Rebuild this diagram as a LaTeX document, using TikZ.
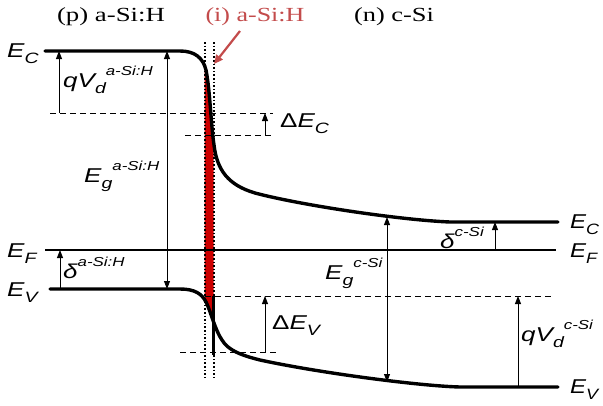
\documentclass[tikz,border=0pt]{standalone}
\usepackage{fontspec}
\setmainfont{Liberation Serif}
\setsansfont{Liberation Sans}
\usetikzlibrary{arrows.meta,calc}

% the printed lettering is stretched sideways
\newcommand{\hwide}[2][1.3]{\scalebox{#1}[1]{#2}}
% level symbol with subscript, and with sub- and superscript
\newcommand{\lev}[2]{#1\raisebox{-0.55ex}{\fontsize{15}{15}\selectfont #2}}
\newcommand{\levsup}[3]{#1\raisebox{-0.55ex}{\fontsize{15}{15}\selectfont #2}\raisebox{1.15ex}{\fontsize{13}{13}\selectfont #3}}

\begin{document}
\begin{tikzpicture}[
  x=1pt, y=-1pt,
  band/.style={line width=3.4pt, line cap=round},
  fermi/.style={line width=1.6pt},
  guide/.style={dash pattern=on 6pt off 4pt, line width=0.9pt},
  grid line/.style={dotted, line width=1.6pt},
  tip/.style={-{Triangle[length=8pt,width=6pt]}, line width=0.9pt},
  tips/.style={{Triangle[length=8pt,width=6pt]}-{Triangle[length=8pt,width=6pt]}, line width=0.9pt},
  lbl/.style={font=\sffamily\itshape\fontsize{20}{20}\selectfont, inner sep=0pt},
  qty/.style={font=\sffamily\itshape\fontsize{20}{20}\selectfont, inner sep=0pt, anchor=west},
  title/.style={font=\fontsize{20}{20}\selectfont, inner sep=0pt}
]
  \useasboundingbox (0,0) rectangle (603,405);

  \def\ecpath{(45,51) -- (180,51) .. controls (195,51) and (203,58) .. (206,70)
    .. controls (210,90) and (211,125) .. (214,145)
    .. controls (217,170) and (228,185) .. (255,193)
    .. controls (300,205) and (400,220) .. (450,222) -- (558,222)}
  \def\evpath{(50,289) -- (180,289) .. controls (195,289) and (202,294) .. (206,302)
    .. controls (211,312) and (215,330) .. (222,340)
    .. controls (228,350) and (240,355) .. (260,360)
    .. controls (320,373) and (420,386) .. (460,387) -- (558,387)}

  % titles
  \node[title] (pside) at (111,17) {\hwide[1.34]{(p) a-Si:H}};
  \node[title, text={rgb,255:red,195;green,75;blue,75}] (iside) at (255,17) {\hwide[1.3]{(i) a-Si:H}};
  \node[title] (nside) at (394,17) {\hwide[1.32]{(n) c-Si}};

  % intrinsic layer
  \begin{scope}
    \clip (204.5,0) rectangle (213.5,405);
    \clip \ecpath -- (558,405) -- (45,405) -- cycle;
    \fill[red!80!black] \evpath -- (558,0) -- (50,0) -- cycle;
  \end{scope}

  % dashed reference levels
  \draw[guide] (50,113) -- (273,113);
  \draw[guide] (185,135) -- (273,135);
  \draw[guide] (205,296) -- (553,296);
  \draw[guide] (180,352) -- (278,352);

  % bands
  \draw[band] \ecpath;
  \draw[band] \evpath;
  \draw[line width=2.6pt] (213.5,296) -- (213.5,355);
  \draw[fermi] (45,250) -- (556,250);

  % interface layer borders
  \draw[grid line] (205,42) -- (205,380);
  \draw[grid line] (214,42) -- (214,380);

  % pointer to the i-layer
  \coordinate (ptail) at (240,31);
  \coordinate (phead) at (214,64);
  \draw[-{Triangle[length=9pt,width=8pt]}, line width=2.2pt,
        draw={rgb,255:red,195;green,75;blue,75}] (ptail) -- (phead);

  % level names
  \node[lbl, anchor=west] (ecl) at (7,54)  {\hwide{\lev{E}{C}}};
  \node[lbl, anchor=west] (efl) at (7,254) {\hwide{\lev{E}{F}}};
  \node[lbl, anchor=west] (evl) at (7,293) {\hwide{\lev{E}{V}}};
  \node[lbl, anchor=west] (ecr) at (570,225) {\hwide[1.2]{\lev{E}{C}}};
  \node[lbl, anchor=west] (efr) at (570,254) {\hwide[1.2]{\lev{E}{F}}};
  \node[lbl, anchor=west] (evr) at (570,390) {\hwide[1.2]{\lev{E}{V}}};

  % quantities
  \coordinate (qa1) at (59,113);  \coordinate (qa2) at (59,51);
  \coordinate (ga1) at (167,51);  \coordinate (ga2) at (167,289);
  \coordinate (da1) at (60,289);  \coordinate (da2) at (60,250);
  \coordinate (dc1) at (265,135); \coordinate (dc2) at (265,113);
  \coordinate (dv1) at (265,352); \coordinate (dv2) at (265,296);
  \coordinate (gc1) at (387,217); \coordinate (gc2) at (387,382);
  \coordinate (ds1) at (495,250); \coordinate (ds2) at (495,222);
  \coordinate (qc1) at (518,387); \coordinate (qc2) at (518,296);

  \draw[tip]  (qa1) -- (qa2);
  \draw[tips] (ga1) -- (ga2);
  \draw[tip]  (da1) -- (da2);
  \draw[tip]  (dc1) -- (dc2);
  \draw[tip]  (dv1) -- (dv2);
  \draw[tips] (gc1) -- (gc2);
  \draw[tip]  (ds1) -- (ds2);
  \draw[tip]  (qc1) -- (qc2);

  \node[qty] (qva) at (63,80)   {\hwide{\levsup{qV}{d}{a-Si:H}}};
  \node[qty] (ega) at (84,176)  {\hwide{\levsup{E}{g}{a-Si:H}}};
  \node[qty] (dea) at (63,268)  {\hwide{δ\raisebox{1.15ex}{\fontsize{13}{13}\selectfont a-Si:H}}};
  \node[qty] (dec) at (280,124) {\hwide{\lev{{\upshape Δ}E}{C}}};
  \node[qty] (dev) at (272,326) {\hwide{\lev{{\upshape Δ}E}{V}}};
  \node[qty] (egc) at (325,273) {\hwide{\levsup{E}{g}{c-Si}}};
  \node[qty] (dcs) at (440,238) {\hwide{δ\raisebox{1.15ex}{\fontsize{13}{13}\selectfont c-Si}}};
  \node[qty] (qvc) at (521,334) {\hwide{\levsup{qV}{d}{c-Si}}};
\end{tikzpicture}
\end{document}
